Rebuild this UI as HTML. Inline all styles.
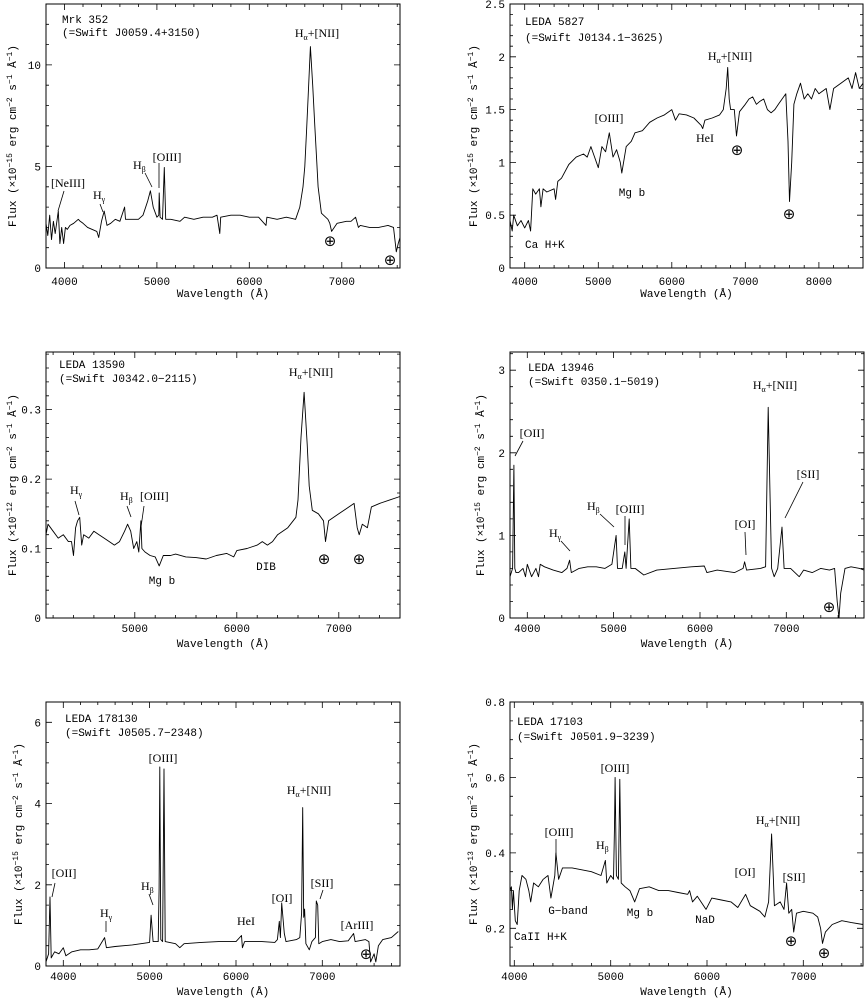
<!DOCTYPE html>
<html><head><meta charset="utf-8"><style>
html,body{margin:0;padding:0;background:#fff}
svg{display:block}
text{font-family:"Liberation Mono","DejaVu Sans Mono",monospace;font-size:11px;fill:#000}
.lab{font-family:"Liberation Serif","DejaVu Serif",serif;font-size:12px}
.earth{font-family:"DejaVu Sans",sans-serif;font-size:15px}
</style></head><body>
<svg id="fig" width="865" height="998" viewBox="0 0 865 998" xmlns="http://www.w3.org/2000/svg">
<g id="annot">
<!-- Panel 1 -->
<text x="62" y="23">Mrk 352</text>
<text x="62" y="36">(=Swift J0059.4+3150)</text>
<text class="lab" x="317" y="37" text-anchor="middle">H<tspan dy="3" font-size="8">α</tspan><tspan dy="-3">+[NII]</tspan></text>
<text class="lab" x="167" y="161" text-anchor="middle">[OIII]</text>
<text class="lab" x="133" y="169">H<tspan dy="3" font-size="8">β</tspan></text>
<line x1="145" y1="173" x2="152" y2="187" stroke="#000" stroke-width="0.8"/>
<line x1="159" y1="163" x2="159" y2="188" stroke="#000" stroke-width="0.8"/>
<text class="lab" x="68" y="187" text-anchor="middle">[NeIII]</text>
<line x1="64" y1="191" x2="58" y2="211" stroke="#000" stroke-width="0.8"/>
<text class="lab" x="93" y="199">H<tspan dy="3" font-size="8">γ</tspan></text>
<line x1="100" y1="204" x2="103" y2="212" stroke="#000" stroke-width="0.8"/>
<text class="earth" x="330" y="246" text-anchor="middle">⊕</text>
<text class="earth" x="390" y="265" text-anchor="middle">⊕</text>
<!-- Panel 2 -->
<text x="525" y="25">LEDA 5827</text>
<text x="525" y="41">(=Swift J0134.1−3625)</text>
<text class="lab" x="730" y="60" text-anchor="middle">H<tspan dy="3" font-size="8">α</tspan><tspan dy="-3">+[NII]</tspan></text>
<text class="lab" x="609" y="122" text-anchor="middle">[OIII]</text>
<text class="lab" x="705" y="142" text-anchor="middle">HeI</text>
<text class="earth" x="737" y="155" text-anchor="middle">⊕</text>
<text class="earth" x="789" y="219" text-anchor="middle">⊕</text>
<text x="632" y="196" text-anchor="middle">Mg b</text>
<text x="525" y="248">Ca H+K</text>
<!-- Panel 3 -->
<text x="59" y="368">LEDA 13590</text>
<text x="59" y="382">(=Swift J0342.0−2115)</text>
<text class="lab" x="311" y="376" text-anchor="middle">H<tspan dy="3" font-size="8">α</tspan><tspan dy="-3">+[NII]</tspan></text>
<text class="lab" x="70" y="494">H<tspan dy="3" font-size="8">γ</tspan></text>
<line x1="75" y1="501" x2="79" y2="515" stroke="#000" stroke-width="0.8"/>
<text class="lab" x="120" y="500">H<tspan dy="3" font-size="8">β</tspan></text>
<text class="lab" x="140" y="500">[OIII]</text>
<line x1="127" y1="506" x2="131" y2="517" stroke="#000" stroke-width="0.8"/>
<line x1="144" y1="506" x2="141" y2="527" stroke="#000" stroke-width="0.8"/>
<text x="162" y="584" text-anchor="middle">Mg b</text>
<text x="266" y="570" text-anchor="middle">DIB</text>
<text class="earth" x="324" y="564" text-anchor="middle">⊕</text>
<text class="earth" x="359" y="564" text-anchor="middle">⊕</text>
<!-- Panel 4 -->
<text x="528" y="371">LEDA 13946</text>
<text x="528" y="385">(=Swift 0350.1−5019)</text>
<text class="lab" x="775" y="389" text-anchor="middle">H<tspan dy="3" font-size="8">α</tspan><tspan dy="-3">+[NII]</tspan></text>
<text class="lab" x="532" y="437" text-anchor="middle">[OII]</text>
<line x1="523" y1="441" x2="515" y2="456" stroke="#000" stroke-width="0.8"/>
<text class="lab" x="808" y="478" text-anchor="middle">[SII]</text>
<line x1="803" y1="482" x2="785" y2="518" stroke="#000" stroke-width="0.8"/>
<text class="lab" x="745" y="528" text-anchor="middle">[OI]</text>
<line x1="745" y1="532" x2="746" y2="555" stroke="#000" stroke-width="0.8"/>
<text class="lab" x="630" y="513" text-anchor="middle">[OIII]</text>
<line x1="625" y1="516" x2="625" y2="545" stroke="#000" stroke-width="0.8"/>
<text class="lab" x="587" y="510">H<tspan dy="3" font-size="8">β</tspan></text>
<line x1="600" y1="514" x2="614" y2="527" stroke="#000" stroke-width="0.8"/>
<text class="lab" x="549" y="537">H<tspan dy="3" font-size="8">γ</tspan></text>
<line x1="561" y1="541" x2="570" y2="551" stroke="#000" stroke-width="0.8"/>
<text class="earth" x="829" y="612" text-anchor="middle">⊕</text>
<!-- Panel 5 -->
<text x="65" y="722">LEDA 178130</text>
<text x="65" y="736">(=Swift J0505.7−2348)</text>
<text class="lab" x="163" y="762" text-anchor="middle">[OIII]</text>
<text class="lab" x="309" y="794" text-anchor="middle">H<tspan dy="3" font-size="8">α</tspan><tspan dy="-3">+[NII]</tspan></text>
<text class="lab" x="64" y="877" text-anchor="middle">[OII]</text>
<line x1="55" y1="883" x2="52" y2="897" stroke="#000" stroke-width="0.8"/>
<text class="lab" x="141" y="890">H<tspan dy="3" font-size="8">β</tspan></text>
<line x1="149" y1="894" x2="153" y2="905" stroke="#000" stroke-width="0.8"/>
<text class="lab" x="100" y="917">H<tspan dy="3" font-size="8">γ</tspan></text>
<line x1="106" y1="921" x2="106" y2="932" stroke="#000" stroke-width="0.8"/>
<text class="lab" x="246" y="925" text-anchor="middle">HeI</text>
<text class="lab" x="282" y="902" text-anchor="middle">[OI]</text>
<text class="lab" x="322" y="887" text-anchor="middle">[SII]</text>
<line x1="323" y1="890" x2="320" y2="899" stroke="#000" stroke-width="0.8"/>
<text class="lab" x="357" y="929" text-anchor="middle">[ArIII]</text>
<text class="earth" x="366" y="959" text-anchor="middle">⊕</text>
<!-- Panel 6 -->
<text x="517" y="725">LEDA 17103</text>
<text x="517" y="740">(=Swift J0501.9−3239)</text>
<text class="lab" x="615" y="772" text-anchor="middle">[OIII]</text>
<text class="lab" x="778" y="824" text-anchor="middle">H<tspan dy="3" font-size="8">α</tspan><tspan dy="-3">+[NII]</tspan></text>
<text class="lab" x="559" y="836" text-anchor="middle">[OIII]</text>
<line x1="556" y1="839" x2="556" y2="855" stroke="#000" stroke-width="0.8"/>
<text class="lab" x="596" y="849">H<tspan dy="3" font-size="8">β</tspan></text>
<text class="lab" x="745" y="876" text-anchor="middle">[OI]</text>
<text class="lab" x="794" y="881" text-anchor="middle">[SII]</text>
<text x="568" y="914" text-anchor="middle">G−band</text>
<text x="640" y="916" text-anchor="middle">Mg b</text>
<text x="705" y="923" text-anchor="middle">NaD</text>
<text x="514" y="940">CaII H+K</text>
<text class="earth" x="791" y="946" text-anchor="middle">⊕</text>
<text class="earth" x="824" y="958" text-anchor="middle">⊕</text>
</g>
</svg>
<script>
// ---- Data arrays ----
const p1_wl=[3800,3820,3840,3860,3880,3900,3933,3950,3970,3990,4010,4030,4060,4100,4150,4170,4200,4250,4300,4350,4370,4400,4430,4460,4500,4550,4600,4650,4660,4700,4800,4850,4900,4930,4960,5000,5020,5025,5035,5060,5080,5095,5150,5250,5300,5400,5500,5600,5650,5680,5690,5800,5900,6000,6100,6180,6190,6300,6400,6500,6546,6580,6600,6620,6637,6661,6685,6708,6730,6744,6780,6850,6870,6890,6950,7050,7100,7150,7180,7200,7300,7400,7500,7560,7590,7610,7630];
const p1_flux=[2.2,1.6,2.6,1.4,2.3,1.7,2.8,1.2,2.0,1.2,2.0,1.9,2.1,2.2,2.4,2.3,2.2,2.0,1.9,1.8,1.5,2.3,2.8,2.1,2.2,2.4,2.3,3.0,2.4,2.4,2.4,2.6,3.3,3.8,3.0,2.5,2.6,3.7,2.5,2.4,4.95,2.4,2.4,2.3,2.5,2.4,2.5,2.5,2.6,1.7,2.5,2.6,2.6,2.5,2.5,2.1,2.5,2.4,2.5,2.4,3.0,4.0,5.0,6.8,8.5,10.9,9.0,7.0,5.2,4.0,2.7,2.4,2.2,1.8,2.2,2.3,2.3,2.5,2.0,2.1,2.0,2.0,2.1,2.0,0.8,1.2,1.5];

const p2_wl=[3800,3830,3850,3900,3950,4000,4050,4080,4110,4150,4200,4220,4250,4300,4400,4420,4450,4500,4600,4700,4800,4850,4900,4950,5000,5050,5100,5150,5200,5250,5300,5320,5380,5450,5500,5600,5700,5800,5900,6000,6050,6100,6200,6300,6400,6420,6450,6550,6650,6700,6740,6760,6780,6800,6850,6880,6920,7000,7050,7100,7150,7200,7250,7300,7350,7400,7450,7500,7550,7580,7600,7630,7660,7700,7750,7800,7850,7900,7950,8000,8100,8150,8200,8300,8400,8450,8500,8550,8600];
const p2_flux=[0.45,0.35,0.5,0.4,0.45,0.38,0.45,0.35,0.75,0.7,0.75,0.58,0.75,0.72,0.75,0.65,0.82,0.85,0.98,1.05,1.08,1.05,1.15,1.05,0.95,1.15,1.1,1.28,1.05,1.12,1.0,0.9,1.15,1.2,1.28,1.3,1.38,1.42,1.45,1.5,1.4,1.46,1.45,1.42,1.35,1.32,1.4,1.42,1.45,1.5,1.7,1.9,1.6,1.5,1.5,1.25,1.48,1.55,1.6,1.62,1.55,1.58,1.6,1.5,1.47,1.5,1.55,1.6,1.65,1.2,0.63,1.0,1.55,1.65,1.75,1.6,1.65,1.6,1.7,1.65,1.7,1.5,1.7,1.75,1.8,1.7,1.85,1.7,1.75];

const p3_wl=[4130,4150,4200,4250,4300,4350,4380,4400,4420,4440,4460,4480,4500,4550,4600,4650,4700,4750,4800,4850,4900,4930,4960,4990,5020,5040,5060,5070,5100,5150,5200,5240,5280,5350,5400,5500,5600,5700,5800,5900,5970,6000,6100,6200,6250,6300,6350,6400,6500,6580,6600,6630,6660,6690,6710,6740,6800,6850,6870,6900,7000,7100,7150,7180,7200,7230,7280,7320,7400,7500,7600];
const p3_flux=[0.12,0.135,0.125,0.115,0.12,0.11,0.11,0.09,0.13,0.14,0.145,0.105,0.12,0.115,0.125,0.12,0.115,0.11,0.105,0.11,0.125,0.135,0.125,0.1,0.11,0.095,0.14,0.1,0.095,0.09,0.088,0.075,0.09,0.09,0.092,0.088,0.087,0.085,0.09,0.093,0.088,0.097,0.1,0.105,0.11,0.105,0.11,0.12,0.13,0.145,0.17,0.26,0.325,0.25,0.19,0.155,0.15,0.14,0.11,0.14,0.15,0.16,0.165,0.13,0.12,0.135,0.13,0.16,0.165,0.17,0.175];

const p4_wl=[3800,3830,3845,3856,3870,3900,3950,3980,4000,4050,4100,4130,4150,4200,4300,4400,4460,4490,4510,4600,4700,4800,4900,4980,5029,5045,5100,5130,5145,5180,5200,5250,5350,5500,5700,5900,6050,6080,6200,6400,6500,6517,6540,6700,6760,6790,6813,6830,6860,6900,6950,6975,7050,7100,7150,7200,7300,7400,7500,7560,7590,7610,7630,7680,7750,7850,7900];
const p4_flux=[0.5,0.6,1.85,0.6,0.55,0.55,0.6,0.5,0.65,0.5,0.6,0.5,0.65,0.62,0.58,0.55,0.6,0.7,0.55,0.6,0.62,0.62,0.6,0.65,1.0,0.6,0.6,0.8,0.6,1.2,0.6,0.6,0.52,0.58,0.6,0.62,0.63,0.55,0.58,0.55,0.6,0.68,0.58,0.6,0.62,2.55,1.45,0.6,0.5,0.6,1.1,0.6,0.6,0.55,0.5,0.58,0.55,0.6,0.58,0.6,0.2,0.0,0.3,0.6,0.62,0.6,0.58];

const p5_wl=[3800,3830,3846,3860,3900,3950,4000,4030,4100,4200,4300,4400,4479,4500,4600,4800,4900,5000,5017,5040,5100,5110,5118,5130,5150,5167,5180,5300,5350,5400,5600,5800,6000,6064,6075,6100,6300,6450,6480,6502,6515,6530,6560,6580,6700,6740,6760,6773,6785,6795,6810,6850,6880,6920,6931,6947,6960,7000,7100,7200,7300,7363,7380,7500,7540,7560,7600,7620,7650,7700,7800,7880];
const p5_flux=[0.1,0.3,1.7,0.2,0.35,0.3,0.45,0.25,0.35,0.4,0.4,0.42,0.7,0.45,0.48,0.52,0.55,0.58,1.25,0.6,0.6,1.9,4.9,0.65,0.6,4.85,0.6,0.55,0.45,0.55,0.58,0.6,0.6,0.75,0.45,0.6,0.6,0.58,0.65,1.1,0.7,1.55,0.8,0.6,0.65,0.7,1.3,3.9,1.2,1.4,0.55,0.4,0.6,0.7,1.6,1.5,0.55,0.6,0.65,0.6,0.62,0.8,0.6,0.65,0.6,0.1,0.3,0.1,0.5,0.65,0.7,0.85];

const p6_wl=[3955,3970,3980,3990,4010,4030,4050,4080,4120,4150,4170,4200,4250,4300,4350,4380,4420,4432,4460,4500,4600,4700,4800,4900,4946,4960,5000,5030,5040,5046,5060,5080,5095,5110,5150,5200,5250,5300,5400,5500,5600,5700,5800,5820,5850,5900,5990,6050,6150,6250,6320,6401,6450,6550,6600,6640,6671,6690,6700,6760,6800,6827,6850,6880,6900,6930,7000,7100,7150,7180,7200,7230,7300,7400,7500,7620];
const p6_flux=[0.3,0.31,0.25,0.3,0.22,0.21,0.3,0.34,0.33,0.3,0.27,0.32,0.31,0.33,0.34,0.28,0.34,0.4,0.33,0.36,0.36,0.355,0.35,0.34,0.38,0.32,0.34,0.33,0.47,0.6,0.34,0.33,0.595,0.32,0.31,0.3,0.27,0.305,0.31,0.3,0.3,0.295,0.29,0.3,0.27,0.285,0.25,0.28,0.275,0.27,0.255,0.29,0.26,0.245,0.23,0.27,0.45,0.33,0.26,0.27,0.25,0.32,0.24,0.25,0.19,0.24,0.245,0.24,0.23,0.2,0.16,0.19,0.21,0.22,0.215,0.21];

// tick arrays
const p1_xticks=[4000,5000,6000,7000]; const p1_yticks=[0,5,10]; const p1_ylabels=["0","5","10"];
const p2_xticks=[4000,5000,6000,7000,8000]; const p2_yticks=[0,0.5,1,1.5,2,2.5]; const p2_ylabels=["0","0.5","1","1.5","2","2.5"];
const p3_xticks=[5000,6000,7000]; const p3_yticks=[0,0.1,0.2,0.3]; const p3_ylabels=["0","0.1","0.2","0.3"];
const p4_xticks=[4000,5000,6000,7000]; const p4_yticks=[0,1,2,3]; const p4_ylabels=["0","1","2","3"];
const p5_xticks=[4000,5000,6000,7000]; const p5_yticks=[0,2,4,6]; const p5_ylabels=["0","2","4","6"];
const p6_xticks=[4000,5000,6000,7000]; const p6_yticks=[0.2,0.4,0.6,0.8]; const p6_ylabels=["0.2","0.4","0.6","0.8"];

// ---- Layout ----
const NS="http://www.w3.org/2000/svg";
const svg=document.getElementById('fig');
function mk(tag,attrs,parent){const e=document.createElementNS(NS,tag);for(const k in attrs)e.setAttribute(k,attrs[k]);(parent||svg).appendChild(e);return e;}

const panels=[
 {id:'p1',L:46,R:400,T:4,B:268,x0:3800,x1:7630,y0:0,y1:13,wl:p1_wl,fl:p1_flux,xt:p1_xticks,yt:p1_yticks,yl:p1_ylabels,xm:200,ym:1,exp:"−15",tx:12,lb:285,wb:297},
 {id:'p2',L:510,R:863,T:4,B:268,x0:3800,x1:8600,y0:0,y1:2.5,wl:p2_wl,fl:p2_flux,xt:p2_xticks,yt:p2_yticks,yl:p2_ylabels,xm:200,ym:0.1,exp:"−15",tx:473,lb:285,wb:297},
 {id:'p3',L:46,R:400,T:352,B:618,x0:4130,x1:7600,y0:0,y1:0.383,wl:p3_wl,fl:p3_flux,xt:p3_xticks,yt:p3_yticks,yl:p3_ylabels,xm:200,ym:0.02,exp:"−12",tx:12,lb:632,wb:647},
 {id:'p4',L:510,R:864,T:352,B:618,x0:3800,x1:7900,y0:0,y1:3.22,wl:p4_wl,fl:p4_flux,xt:p4_xticks,yt:p4_yticks,yl:p4_ylabels,xm:200,ym:0.2,exp:"−15",tx:480,lb:632,wb:647},
 {id:'p5',L:46,R:400,T:702,B:966,x0:3800,x1:7900,y0:0,y1:6.5,wl:p5_wl,fl:p5_flux,xt:p5_xticks,yt:p5_yticks,yl:p5_ylabels,xm:200,ym:0.5,exp:"−15",tx:18,lb:980,wb:995},
 {id:'p6',L:510,R:863,T:702,B:966,x0:3955,x1:7620,y0:0.1,y1:0.8,wl:p6_wl,fl:p6_flux,xt:p6_xticks,yt:p6_yticks,yl:p6_ylabels,xm:200,ym:0.05,exp:"−13",tx:473,lb:980,wb:995}
];

panels.forEach(p=>{
  const g=mk('g',{});
  
  
  const sx=v=>p.L+(v-p.x0)/(p.x1-p.x0)*(p.R-p.L);
  const sy=v=>p.B-(v-p.y0)/(p.y1-p.y0)*(p.B-p.T);
  let d='';
  for(let i=0;i<p.wl.length;i++){
    const x=Math.max(p.L,Math.min(p.R,sx(p.wl[i]))), y=Math.max(p.T,Math.min(p.B,sy(p.fl[i])));
    d+=(i?'L':'M')+x.toFixed(1)+' '+y.toFixed(1);
  }
  const line=mk('path',{d:d,fill:'none',stroke:'#000','stroke-width':0.9,'stroke-linejoin':'round'},g);
  
  
  const fr=mk('rect',{x:p.L,y:p.T,width:p.R-p.L,height:p.B-p.T,fill:'none',stroke:'#000','stroke-width':1},g);
  
  
  let td='';
  const xs=Math.ceil(p.x0/p.xm)*p.xm;
  for(let v=xs;v<=p.x1+1e-6;v+=p.xm){
    const major=p.xt.some(t=>Math.abs(t-v)<1e-6);
    const len=major?6:3, x=sx(v).toFixed(1);
    td+=`M${x} ${p.B}v${-len}M${x} ${p.T}v${len}`;
  }
  const ys=Math.ceil((p.y0-1e-9)/p.ym)*p.ym;
  for(let v=ys;v<=p.y1+1e-9;v+=p.ym){
    const major=p.yt.some(t=>Math.abs(t-v)<1e-6);
    const len=major?6:3, y=sy(v).toFixed(1);
    td+=`M${p.L} ${y}h${len}M${p.R} ${y}h${-len}`;
  }
  const tk=mk('path',{d:td,stroke:'#000','stroke-width':0.8,fill:'none'},g);
  
  
  p.xt.forEach(v=>{
    const t=mk('text',{x:sx(v),y:p.lb,'text-anchor':'middle'},g); t.textContent=String(v);
    
    
  });
  p.yt.forEach((v,i)=>{
    const t=mk('text',{x:p.L-5,y:sy(v)+4,'text-anchor':'end'},g); t.textContent=p.yl[i];
    
    
  });
  const xt=mk('text',{x:(p.L+p.R)/2,y:p.wb,'text-anchor':'middle'},g); xt.textContent='Wavelength (Å)';
  
  
  const cy=(p.T+p.B)/2;
  const yt=mk('text',{x:p.tx,y:cy,'text-anchor':'middle',transform:`rotate(-90 ${p.tx} ${cy})`,dy:'4'},g);
  yt.innerHTML=`Flux (×10<tspan dy="-4" font-size="8">${p.exp}</tspan><tspan dy="4"> erg cm</tspan><tspan dy="-4" font-size="8">−2</tspan><tspan dy="4"> s</tspan><tspan dy="-4" font-size="8">−1</tspan><tspan dy="4"> Å</tspan><tspan dy="-4" font-size="8">−1</tspan><tspan dy="4">)</tspan>`;
  
  
});
</script>
</body></html>
